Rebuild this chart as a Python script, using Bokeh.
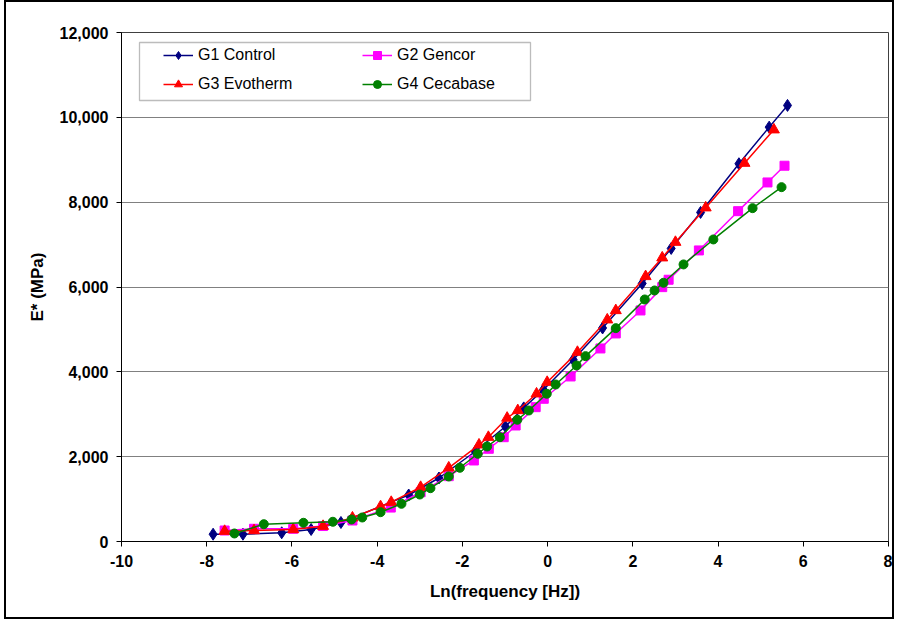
from bokeh.plotting import figure
from bokeh.models import (Legend, LegendItem, NumeralTickFormatter, FixedTicker,
                          Range1d, BoxAnnotation)
from bokeh.embed import file_html
from bokeh.resources import INLINE

# ---- data ----
g1_x = [-7.85, -7.15, -6.24, -5.55, -4.85, -3.26, -2.55, -1.70, -0.99, -0.56, -0.10,
        0.60, 1.29, 2.22, 2.90, 3.59, 4.49, 5.20, 5.63]
g1_y = [172, 172, 205, 283, 448, 1096, 1497, 2122, 2712, 3150, 3577,
        4285, 5034, 6084, 6909, 7758, 8906, 9769, 10281]

g2_x = [-7.58, -6.89, -5.97, -5.27, -4.58, -3.68, -2.98, -2.32, -1.73, -1.38, -1.03,
        -0.75, -0.28, -0.09, 0.54, 1.24, 1.60, 2.18, 2.69, 2.84, 3.55, 4.47, 5.16, 5.56]
g2_y = [259, 300, 300, 365, 495, 800, 1162, 1540, 1910, 2186, 2459,
        2735, 3167, 3365, 3891, 4551, 4905, 5447, 5997, 6171, 6862, 7788, 8465, 8859]

g3_x = [-7.58, -6.89, -5.97, -5.27, -4.58, -3.92, -3.67, -2.98, -2.32, -1.61, -1.39,
        -0.95, -0.70, -0.26, -0.01, 0.70, 1.40, 1.60, 2.30, 2.69, 3.00, 3.71, 4.62, 5.31]
g3_y = [243, 259, 283, 361, 559, 825, 927, 1280, 1738, 2280, 2459,
        2912, 3089, 3483, 3756, 4464, 5228, 5447, 6249, 6690, 7057, 7869, 8920, 9708]

g4_x = [-7.35, -6.66, -5.73, -5.04, -4.60, -4.35, -3.92, -3.43, -3.00, -2.75, -2.32,
        -2.06, -1.64, -1.42, -1.12, -0.71, -0.44, -0.02, 0.19, 0.68, 0.89, 1.60,
        2.28, 2.51, 2.72, 3.19, 3.89, 4.81, 5.49]
g4_y = [189, 408, 441, 465, 519, 566, 691, 889, 1108, 1257, 1533,
        1738, 2068, 2240, 2459, 2870, 3089, 3483, 3702, 4150, 4370, 5030,
        5706, 5918, 6100, 6532, 7121, 7859, 8354]

series_names = ["G1 Control", "G2 Gencor", "G3 Evotherm", "G4 Cecabase"]
x_ticks = [-10, -8, -6, -4, -2, 0, 2, 4, 6, 8]
y_ticks = [0, 2000, 4000, 6000, 8000, 10000, 12000]

FONT = "Liberation Sans"

p = figure(width=890, height=619, output_backend="svg", toolbar_location=None,
           x_range=Range1d(-10, 8), y_range=Range1d(0, 12000),
           min_border_left=115, min_border_top=30, min_border_right=8,
           min_border_bottom=80,
           x_axis_label="Ln(frequency [Hz])", y_axis_label="E* (MPa)")
p.styles = {"border": "2px solid black", "margin-left": "4px"}

p.background_fill_color = "white"
p.border_fill_color = "white"
p.outline_line_color = "#404040"
p.outline_line_width = 1

p.xgrid.visible = False
p.ygrid.grid_line_color = "#808080"
p.ygrid.grid_line_width = 1

p.xaxis.ticker = FixedTicker(ticks=x_ticks)
p.yaxis.ticker = FixedTicker(ticks=y_ticks)
p.xaxis.formatter = NumeralTickFormatter(format="0")
p.yaxis.formatter = NumeralTickFormatter(format="0,0")
for ax in (p.xaxis[0], p.yaxis[0]):
    ax.axis_line_color = "black"
    ax.axis_line_width = 1
    ax.major_tick_line_color = "black"
    ax.major_tick_out = 5
    ax.major_tick_in = 0
    ax.minor_tick_out = 0
    ax.minor_tick_in = 0
    ax.major_label_text_font = FONT
    ax.major_label_text_font_style = "bold"
    ax.major_label_text_font_size = "16px"
    ax.major_label_text_color = "black"
    ax.major_label_standoff = 8
    ax.axis_label_text_font = FONT
    ax.axis_label_text_font_style = "bold"
    ax.axis_label_text_font_size = "17px"
    ax.axis_label_text_color = "black"
p.xaxis.axis_label_standoff = 12
p.yaxis.axis_label_standoff = 10

specs = [
    (g1_x, g1_y, "#000080", "diamond", 12),
    (g2_x, g2_y, "#FF00FF", "square", 9),
    (g3_x, g3_y, "#FF0000", "triangle", 11),
    (g4_x, g4_y, "#008000", "circle", 9),
]
items = []
for name, (xs, ys, col, mk, sz) in zip(series_names, specs):
    lr = p.line(xs, ys, line_color=col, line_width=1.5)
    sr = p.scatter(xs, ys, marker=mk, size=sz, fill_color=col, line_color=col)
    items.append(LegendItem(label=name, renderers=[lr, sr]))

box = BoxAnnotation(left=131, right=522, top=38, bottom=96,
                    left_units="canvas", right_units="canvas",
                    top_units="canvas", bottom_units="canvas",
                    fill_color="white", fill_alpha=1.0,
                    line_color="#202020", line_width=1.3)
p.add_layout(box)

legend = Legend(items=items, location=(42, 447), orientation="horizontal", ncols=2,
                padding=0, margin=0, spacing=9,
                glyph_width=30, glyph_height=20, label_height=20, label_width=155,
                label_standoff=5,
                label_text_font=FONT, label_text_font_size="16px",
                label_text_color="black",
                border_line_alpha=0, background_fill_alpha=0)
p.add_layout(legend)

open("out.html", "w").write(file_html(p, INLINE))
